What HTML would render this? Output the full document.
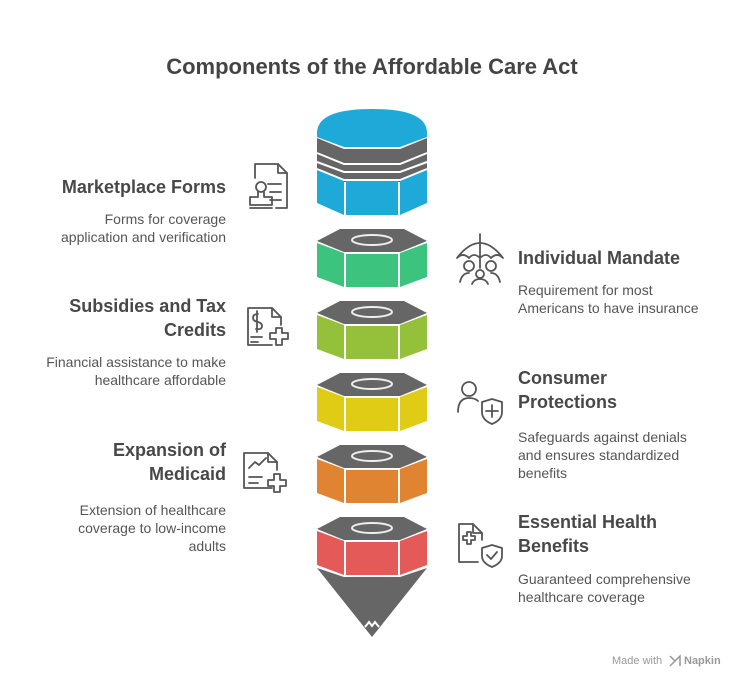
<!DOCTYPE html>
<html><head><meta charset="utf-8"><style>
body{margin:0;width:744px;height:688px;background:#fff;position:relative;font-family:"Liberation Sans",sans-serif;overflow:hidden}
.t{position:absolute;font-size:22px;font-weight:bold;color:#444;left:0;width:744px;text-align:center;top:54px}
.h{position:absolute;font-size:18px;font-weight:bold;color:#484848;line-height:24px}
.d{position:absolute;font-size:14px;color:#555;line-height:18px}
.l{right:518px;text-align:right}
.r{left:518px}
svg{position:absolute;left:0;top:0}
</style></head><body>
<div class="t">Components of the Affordable Care Act</div>
<svg width="744" height="688" viewBox="0 0 744 688">
<defs>
<g id="nut">
<polygon points="317,12 340,0 404,0 427,12 400,23 344,23" fill="#666"/>
<polygon points="317,14 344,24 344,58 317,48" fill="currentColor"/>
<polygon points="346,25 398,25 398,58 346,58" fill="currentColor"/>
<polygon points="400,24 427,14 427,48 400,58" fill="currentColor"/>
<ellipse cx="372" cy="11" rx="20" ry="5" fill="none" stroke="#eee" stroke-width="2"/>
</g>
</defs>
<!-- top cap -->
<path d="M317,133 Q317,109 372,109 Q427,109 427,133 L427,137 L400,147 L344,147 L317,137Z" fill="#1ea9d8"/>
<polygon points="317,138 344,149 400,149 427,138 427,172 400,182 344,182 317,172" fill="#666"/>
<polyline points="317,153 344,164 400,164 427,153" fill="none" stroke="#fff" stroke-width="2"/>
<polyline points="317,162 344,172 400,172 427,162" fill="none" stroke="#fff" stroke-width="2"/>
<polygon points="317,170 344,180 344,215 317,203" fill="#1ea9d8"/>
<polygon points="346,181 398,181 398,215 346,215" fill="#1ea9d8"/>
<polygon points="400,180 427,170 427,203 400,215" fill="#1ea9d8"/>
<polyline points="317,169 344,180 400,180 427,169" fill="none" stroke="#fff" stroke-width="2"/>
<use href="#nut" y="229" style="color:#3cc47e"/>
<use href="#nut" y="301" style="color:#95c13a"/>
<use href="#nut" y="373" style="color:#e0cb15"/>
<use href="#nut" y="445" style="color:#e08431"/>
<use href="#nut" y="517" style="color:#e35a58"/>
<polygon points="317,568 344,577 400,577 427,568 372,637" fill="#666"/>
<polyline points="365,627 369,622 372,626 375,622 379,627" fill="none" stroke="#fff" stroke-width="2"/>
<g fill="none" stroke="#555" stroke-width="1.8" stroke-linecap="round" stroke-linejoin="round">
<!-- marketplace -->
<path d="M255,178 V164 H278 L287,173 V208 H276"/><path d="M278,164 V173 H287"/>
<path d="M268,184 H281 M270,192 H281 M270,200 H281"/>
<circle cx="261" cy="187" r="5"/><path d="M258,192 V197 H250 V205 H272 V197 H264 V192 M250,208 H272"/>
<!-- mandate -->
<path d="M457,258 Q480,228 503,258 Q497,252 491,258 Q486,252 480,258 Q474,252 469,258 Q463,252 457,258 M480,234 V268"/>
<circle cx="469" cy="266" r="5"/><circle cx="491" cy="266" r="5"/><circle cx="480" cy="274" r="4"/>
<path d="M460,282 Q462,273 469,273 M500,282 Q498,273 491,273 M472,284 Q474,279 480,279 Q486,279 488,284"/>
<!-- subsidies -->
<path d="M272,345 H248 V308 H272 L281,317 V325"/><path d="M272,308 V317 H281"/>
<path d="M258,314 Q253,314 253,318 Q253,321 258,322 Q262,323 262,326 Q262,330 256,329 M257,311 V332"/>
<path d="M251,337 H262 M251,342 H258"/><path d="M270,333 H276 V328 H282 V333 H288 V339 H282 V345 H276 V339 H270Z"/>
<!-- consumer -->
<circle cx="469" cy="389" r="7"/><path d="M458,412 Q458,398 469,398 Q475,398 478,401"/>
<path d="M482,402 L492,399 L502,402 V412 Q502,420 492,424 Q482,420 482,412Z M492,405 V417 M486,411 H498"/>
<!-- expansion -->
<path d="M272,488 H244 V453 H268 L277,462 V470"/><path d="M268,453 V462 H277"/>
<path d="M249,468 L255,462 L259,465 L266,458 M249,477 H262 M249,483 H258"/>
<path d="M268,480 H274 V474 H280 V480 H286 V486 H280 V492 H274 V486 H268Z"/>
<!-- essential -->
<path d="M482,540 V533 L473,524 H459 V562 H478"/><path d="M473,524 V533 H482"/>
<path d="M463,536 H467 V532 H471 V536 H475 V540 H471 V544 H467 V540 H463Z"/>
<path d="M482,548 L492,545 L502,548 V556 Q502,563 492,567 Q482,563 482,556Z M487,555 L491,559 L497,552"/>
</g>
<text x="612" y="664" font-family="Liberation Sans,sans-serif" font-size="11" fill="#999">Made with</text>
<path d="M670,656 l5,5 -5,5 M675,661 l5,-5 v10" stroke="#999" fill="none" stroke-width="1.5"/>
<text x="684" y="664" font-family="Liberation Sans,sans-serif" font-size="11" font-weight="bold" fill="#999">Napkin</text>
</svg>
<div class="h l" style="top:175px">Marketplace Forms</div>
<div class="d l" style="top:210px">Forms for coverage<br>application and verification</div>
<div class="h r" style="top:246px">Individual Mandate</div>
<div class="d r" style="top:281px">Requirement for most<br>Americans to have insurance</div>
<div class="h l" style="top:294px">Subsidies and Tax<br>Credits</div>
<div class="d l" style="top:353px">Financial assistance to make<br>healthcare affordable</div>
<div class="h r" style="top:366px">Consumer<br>Protections</div>
<div class="d r" style="top:428px">Safeguards against denials<br>and ensures standardized<br>benefits</div>
<div class="h l" style="top:438px">Expansion of<br>Medicaid</div>
<div class="d l" style="top:501px">Extension of healthcare<br>coverage to low-income<br>adults</div>
<div class="h r" style="top:510px">Essential Health<br>Benefits</div>
<div class="d r" style="top:570px">Guaranteed comprehensive<br>healthcare coverage</div>
</body></html>
